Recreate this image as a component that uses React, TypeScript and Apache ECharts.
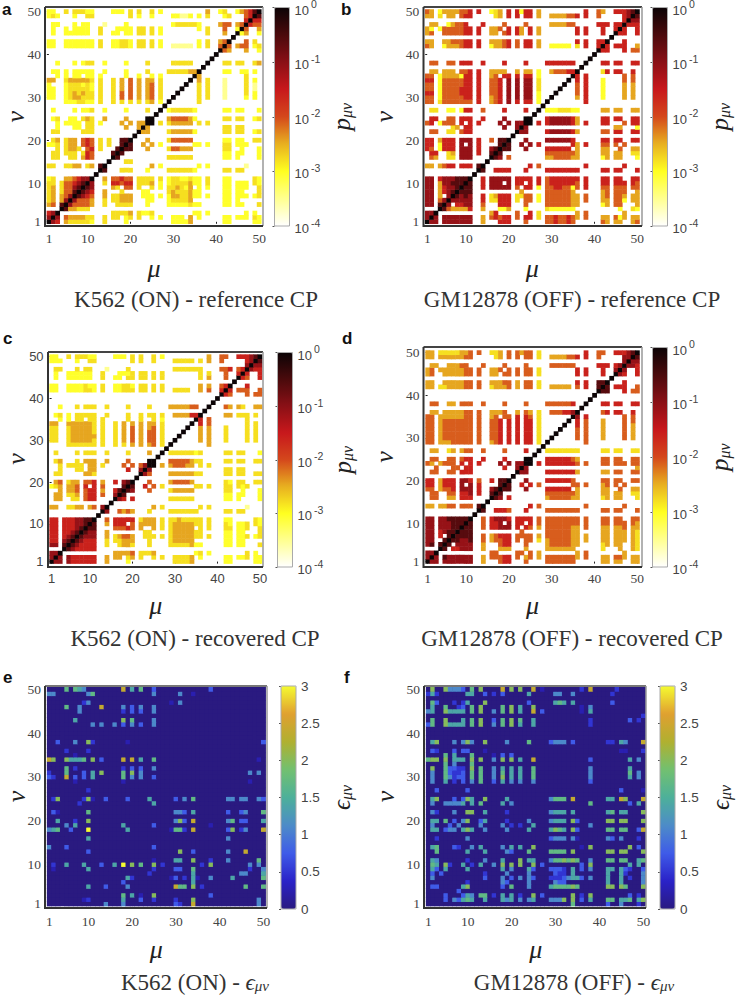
import React, { useEffect, useRef } from "react";
import * as echarts from "echarts";

// Rows run from nu = 50 down to nu = 1; each string holds the columns mu = 1..nu (the maps are symmetric).
// '.' = empty, digits = colour level. Spaces only group columns in tens.
const k562Reference = [
  "22..3.3332 2....222.3 .3..3.2... .......4.. 23..245689",
  "232...2..3 3........3 .2..2....2 2112.2.3.. .23...569",
  ".......... .......... .......... .......... ......69",
  ".22...2.22 ...1....2. .........2 333332.... 455.459",
  ".2..2.2222 ..3...2222 .33.3.2... .....2.3.. .5..29",
  ".2..222222 ..3..22.22 .33.3.2... .......3.. .4..9",
  "",
  "22..222222 2.3..22332 .33.3.2... .....2.3.. 459",
  "22..222222 2.3..22332 .33.3.2..1 1111.2.3.. 59",
  "", "", "",
  "..2...2.23 3..2....2. ...3.....3 3333...9",
  "",
  ".22.2.2222 2..2....2. ...3....33 333449",
  "..2.2.22.2 2.2.....2. .2..2.2... ....9",
  "44..344444 3.3..3.4.5 .4.44.3... ...9",
  "2...233323 2.3..3.4.5 .4.45.3... ..9",
  "22..233333 2.3..3.4.5 .4.45.3... .9",
  "22..234343 3.3..3.5.5 .4.45.3... 9",
  "22..234433 3.3..3.5.5 .4.45.3..9",
  "....222332 2.3..3.3.3 .3.34.2.9",
  "",
  ".2....2.22 3..2....2. ...3..9",
  "",
  ".23..22.34 3..4....4. ...99",
  "..2.2222.3 3.2....4.4 .449",
  "..2...22.3 3.......4. .49",
  ".33.....33 3......... .9",
  "",
  ".34.344.56 5.3.3..889",
  "223.344.56 5.3.3..89",
  "..3.3443.5 6.3...89",
  ".33.333.36 5....89",
  ".33..33.46 5....9",
  "",
  "33..3344.3 4.89",
  "", "",
  "23..445677 9",
  "33.3556789",
  "34.355789",
  "34.35589",
  "34.4579",
  "34.479",
  "45.89",
  "...9",
  "679",
  "79",
  "9",
];

const gm12878Reference = [
  "54.2444455 6.6..234.6 .6266.4... .......6.. 54..666789",
  "44.3.44.56 6.....34.6 .6.66.4..4 444556.6.. 5.....679",
  ".......... .......... .......... .......... ......69",
  ".44..24556 ...6....5. ...5.....4 44455..... 666.669",
  "42.2555556 6.6..445.6 .64.6.4... .....6.6.. .6..69",
  "45..555556 6.6..44.56 .64.6.4... .....6.6.. .6..9",
  "",
  "44..445556 6.6..44456 .5.66.4... .....6.6.. 669",
  "54..244456 6.6..24456 .5.66.4..2 2222.3.6.. 69",
  "", "", "",
  ".55..55.66 6..6....6. ...6....66 66666..9",
  "",
  ".44.444.55 6.6..4444. .4.44.2..4 555669",
  "55.2444426 6.6..45.66 .6.66.2... ....9",
  "66.2555556 6.6..556.7 .7.77.3... ...9",
  "55.2555556 6.6..556.7 .7.77.3... ..9",
  "55.2555566 6.6..556.7 .7.77.3... .9",
  "66.2555566 6.6..556.7 .7.77.2... 9",
  "55.2555556 6.6..456.7 .7.77.2..9",
  "55.3555555 5.6..456.7 .6.66.2.9",
  "",
  ".33..22.26 6..5....6. ...6..9",
  "",
  ".66..55.66 6..6....7. ...99",
  "56.2555.6. 6.6....7.7 .779",
  "......34.6 6.......7. .79",
  ".55..33.56 6......... .9",
  "",
  "66.4666.77 7.6..5.889",
  "66.2666.7. 7.6....89",
  "65.2666.77 7.6..789",
  ".66..34.77 7.6..89",
  ".54..33.77 7....9",
  "",
  "44.4566.66 6.89",
  "", "",
  "77.6777888 9",
  "77.4778889",
  "77.467789",
  "77.46789",
  "77.4.79",
  "77.579",
  "77.89",
  "...9",
  "779",
  "79",
  "9",
];

const k562Recovered = [
  "22..3.3332 2....222.3 .3..3.2... .......4.. 55..666789",
  "222...2..3 3........3 .3..3....3 3333.3.4.. 5.....679",
  ".......... .......... .......... .......... ......79",
  ".33...3.33 ...1....3. .........3 333333.... 556.569",
  ".2..222222 ..3...2223 .33.3.3... .....3.3.. .5..69",
  ".2..222222 ..3..22.33 .33.3.3... .....3.4.. .5..9",
  "",
  "22..222232 2.3..22332 .33.3.3... .....4.4.. 569",
  "22..222233 2.3..22333 .33.3.3..3 333..4.5.. 69",
  "", "", "",
  "..2...3.33 3..3....3. ...3....44 44455..9",
  "",
  ".23.2.3333 3..3....3. .3.33.3..4 444669",
  "..2.2.33.3 3.3.....3. .3..3.2... ....9",
  "44..444444 3.3..3.4.4 .4.44.3... ...9",
  "33..344444 3.3..3.4.5 .4.45.3... ..9",
  "33..344444 3.3..3.4.5 .4.55.3... .9",
  "33..344444 4.3..3.4.5 .4.55.3... 9",
  "33..344444 3.3..3.4.5 .4.55.3..9",
  "....333333 3.3..3.3.4 .4.45.3.9",
  "",
  ".3....3.33 3..3....3. ...4..9",
  "",
  ".34...3.44 4..4....5. ...99",
  "..3.3333.4 4.3....5.5 .579",
  "..3...33.4 4.......6. .79",
  ".33.....44 3......... .9",
  "",
  ".45.344.55 6.4..6.789",
  "234.445.6. 6.5....89",
  "..4.445.56 6.4..689",
  ".44.334.56 6.5..79",
  ".44..33.56 6....9",
  "",
  "44..3344.4 5.79",
  "", "",
  "66.6667788 9",
  "66.6667789",
  "66.666789",
  "66.66789",
  "66.6789",
  "66.789",
  "77.89",
  "...9",
  "779",
  "79",
  "9",
];

const gm12878Recovered = [
  "44.3333344 5.5..334.5 .5455.3... .......6.. 55..666789",
  "44.4444445 5.....34.5 .5.55.3..4 444556.6.. 5.....779",
  ".......... .......... .......... .......... ......79",
  ".44..44455 ...5....5. ...5.....5 55555..... 666.679",
  "45.4444445 5.5..445.5 .5.55.3... .....6.6.. .6..79",
  "45..444445 5.5..44.55 .5.55.3... .....6.6.. .6..9",
  "",
  "44..444445 5.5..44455 .4.55.3... .....6.6.. 889",
  "44.3344445 5.5..34445 .4.55.3..4 4444.5.6.. 89",
  "", "", "",
  ".55..44.55 5..5....5. ...5....55 55556..9",
  "",
  ".44.444445 5.5..4445. .4.54.3..5 556679",
  "55.4444445 5.5..45.55 .6.65.3... ....9",
  "55.4555555 5.5..556.6 .6.66.3... ...9",
  "55.4555555 5.5..556.6 .6.66.3... ..9",
  "55.4555555 5.5..556.6 .6.66.3... .9",
  "55.4555555 5.5..556.6 .6.66.3... 9",
  "55.4555555 5.5..556.6 .6.66.3..9",
  "55.4445555 5.5..456.6 .6.66.3.9",
  "",
  ".44..34.45 5..5....5. ...6..9",
  "",
  ".55..55.56 6..6....6. ...99",
  "54.4555.6. 6.6....7.7 .779",
  "..5...55.6 6.......6. .79",
  ".55..55.66 6......... .9",
  "",
  "66.4666.77 6.5..6.889",
  "66.4666.7. 7.6....89",
  "55.4556.77 7.6..789",
  ".55..55.66 7.6..89",
  ".55..44.66 6....9",
  "",
  "44.4455.55 5.89",
  "", "",
  "77.7788888 9",
  "77.7778889",
  "77.777889",
  "77.67889",
  "77.6.89",
  "77..89",
  "78.89",
  "...9",
  "779",
  "79",
  "9",
];

const k562Error = [
  "....6.654. .......8.5 .6..3..... .......3..",
  "44.......4 6......... ....4..... 4..1......",
  "",
  "........24 .......... ........1. 4.........",
  "....6..4.. ..8....4.3 .4..4.....",
  ".......4.. .......2.3 .3..4.....",
  "",
  "......5... .......7.6 ....4.....",
  ".......... 4.4..4.3.4 .3..4.....",
  "", "", "",
  "..3...4..7 2.......1.",
  "",
  "....2....2",
  "......1...",
  "87..75556. 7.3....8.8 .5..6.....",
  "",
  "....6.2... .......2.3 .3..4.....",
  "2...6...3. 5.7....6.7 .4........",
  "32..8.3.3. 5......6.4 .4..3.....",
  "......1... .......1..",
  "",
  ".........2",
  "",
  ".27.....27 1..3....3. ...5.",
  ".......2..",
  "",
  ".31......6",
  "",
  "..5...2..7",
  "....4.5... .......5..",
  "456..3...9",
  "",
  ".........5",
  "",
  "4...3.....",
  ".........3",
  "", "",
  ".2..5...5.",
  ".1.......",
  "", "", "", "", "", "", "", "",
];

const gm12878Error = [
  ".7..74443. 6.7....8.7 .7..8.1... .....2.8.. ...2......",
  "252......5 5..3.2.3.. ...5.....4 4..4...... ..2......",
  "",
  ".63...2.25 ...7...... ...3.....5 65.5...... ..3....",
  ".5..6..23. 6.7....6.7 .5..7..... .....1.4..",
  "45..75555. 6.7..4.6.7 .5..8.3... .....1.5..",
  "",
  ".6..7...5. 6.7..3.6.7 .6..5..... .......2..",
  "36..75555. 6.7..4.6.7 .5..5..... .......2..",
  "", "", "",
  ".57...4.47 4..7....4. ...6....34 44.3....",
  "",
  ".32...3.33 ...1......",
  "....6.5... 6....1.3.3",
  "677.7.555. 7.7..4.7.7 .5..8.....",
  "....6.4... 6.........",
  ".7..63322. 7.6..4.5.5 .5..6.....",
  ".4..63223. 6.6..4.6.5 .5..6.....",
  ".4..64233. 6.6..4.7.5 .5..6.....",
  ".4..5.2.3. 4.6..3.5.4 .4..4....",
  "",
  "..3......3",
  "",
  ".57...3.37 5..7....5.",
  ".4..44445. 5.6....5.4",
  "",
  ".42...4..7 7..5....2.",
  "",
  ".55.6.3.47 ..35....2.",
  ".4...3.4.. ..4....4.",
  ".55.344.57 5..4......",
  "",
  "..2......4",
  "",
  ".56...32.. 4.5.",
  "..6......5",
  "",
  ".54......2",
  ".65.72..5.",
  ".53.5....",
  ".3.3....",
  ".4.....",
  "",
  ".33..",
  "", "", "", "",
];

const indexLabels = Array.from({ length: 50 }, (_, i) => String(i + 1));
const shownTicks = ["1", "10", "20", "30", "40", "50"];
// log10(p) for the colour levels 1..9
const probLevels = [-3.5, -3.05, -2.8, -2.45, -2.1, -1.6, -1.1, -0.6, 0];
// epsilon for the colour levels 1..9
const errorLevels = [0.25, 0.5, 0.75, 1.1, 1.4, 1.7, 2.0, 2.4, 3.0];
const hotColors = ["#ffffff", "#ffff90", "#ffff20", "#e8b020", "#d4481c", "#c8181c", "#8a1016", "#4a0a0c", "#0c0406"];
const parulaColors = ["#2a1a80", "#2a22c8", "#3f5be8", "#4d8cc8", "#4db09a", "#72c070", "#b0b030", "#e0a030", "#f5fb30"];

const SERIF = "'Liberation Serif', serif";
const SANS = "'Liberation Sans', sans-serif";

type Panel = {
  letter: string; lx: number; ly: number; title: string; tx: number; ty: number;
  rows: string[]; error: boolean; tickFont: string; tickSize: number;
  cell: [number, number, number, number];
  frame: [number, number, number, number];
  bar: [number, number, number, number];
  nameX: number; nameY: number; labelGap: number;
};

const panels: Panel[] = [
  { letter: "a", lx: 2, ly: 9, title: "K562 (ON) - reference CP", tx: 196, ty: 299, rows: k562Reference, error: false, tickFont: SERIF, tickSize: 13.5,
    cell: [46.9, 9.5, 214.4, 214.3], frame: [45, 7, 263, 226], bar: [274.5, 7.5, 15, 218.5], nameX: 32, nameY: 18, labelGap: 39 },
  { letter: "b", lx: 341, ly: 9, title: "GM12878 (OFF) - reference CP", tx: 572, ty: 299, rows: gm12878Reference, error: false, tickFont: SERIF, tickSize: 13.5,
    cell: [425.2, 9.5, 214.3, 214.3], frame: [423.5, 7, 642, 226], bar: [652.5, 7.5, 15, 218.5], nameX: 32, nameY: 28, labelGap: 39 },
  { letter: "c", lx: 3, ly: 338, title: "K562 (ON) - recovered CP", tx: 195, ty: 638, rows: k562Recovered, error: false, tickFont: SANS, tickSize: 13,
    cell: [49.6, 354.6, 212.5, 209], frame: [48, 352, 263, 567], bar: [277.5, 352.5, 15, 214.5], nameX: 29, nameY: 20, labelGap: 37 },
  { letter: "d", lx: 342, ly: 338, title: "GM12878 (OFF) - recovered CP", tx: 572, ty: 638, rows: gm12878Recovered, error: false, tickFont: SERIF, tickSize: 13.5,
    cell: [425.6, 350.6, 213.9, 213], frame: [423.5, 347, 642, 567], bar: [652.5, 347.5, 15, 219.5], nameX: 29, nameY: 28, labelGap: 39 },
  { letter: "e", lx: 3, ly: 677, title: "K562 (ON) - {i|ϵ}{s|μν}", tx: 195, ty: 982, rows: k562Error, error: true, tickFont: SERIF, tickSize: 13.5,
    cell: [47.1, 687.1, 218.5, 219], frame: [45, 686, 267, 908], bar: [281, 686, 15, 223], nameX: 30, nameY: 18, labelGap: 32 },
  { letter: "f", lx: 344, ly: 677, title: "GM12878 (OFF) - {i|ϵ}{s|μν}", tx: 574, ty: 982, rows: gm12878Error, error: true, tickFont: SERIF, tickSize: 13.5,
    cell: [426.1, 687.1, 219.5, 219], frame: [424, 686, 646, 908], bar: [660, 686, 15, 223], nameX: 30, nameY: 28, labelGap: 32 },
];

function decode(p: Panel): number[][] {
  const out: number[][] = [];
  const levels = p.error ? errorLevels : probLevels;
  const grid: (number | null)[][] = Array.from({ length: 50 }, () => Array(50).fill(null));
  p.rows.forEach((raw, k) => {
    const nu = 49 - k;
    const s = raw.replace(/ /g, "");
    for (let c = 0; c < Math.min(s.length, nu + 1); c++) {
      const ch = s[c];
      if (ch !== ".") {
        const v = levels[Number(ch) - 1];
        grid[nu][c] = v;
        grid[c][nu] = v;
      }
    }
  });
  for (let nu = 0; nu < 50; nu++) {
    if (!p.error) grid[nu][nu] = 0;
    for (let c = 0; c < 50; c++) {
      const v = grid[nu][c];
      if (v !== null) out.push([c, nu, v]);
      else if (p.error) out.push([c, nu, 0]);
    }
  }
  return out;
}

const tickFn = (_: number, v: string) => shownTicks.includes(v);

function buildOption() {
  const grids: any[] = [], xAxes: any[] = [], yAxes: any[] = [], series: any[] = [], maps: any[] = [], graphics: any[] = [];
  panels.forEach((p, i) => {
    const [l, t, w, h] = p.cell;
    grids.push({
      left: l, top: t, width: w, height: h, containLabel: false, outerBoundsMode: "none",
      show: p.error, backgroundColor: "#2a1a80", borderWidth: 0,
    });
    const common = {
      type: "category", data: indexLabels, gridIndex: i,
      axisLine: { show: false },
      axisTick: { show: true, inside: true, length: 2, alignWithLabel: true, interval: tickFn, lineStyle: { color: "#222", width: 1 } },
      splitLine: { show: false }, splitArea: { show: false },
      nameLocation: "middle", nameMoveOverlap: false,
      nameTextStyle: { fontFamily: SERIF, fontStyle: "italic", fontSize: 26, color: "#222" },
    };
    xAxes.push({ ...common, name: "μ", nameGap: p.nameX,
      axisLabel: { interval: tickFn, fontFamily: p.tickFont, fontSize: p.tickSize, color: "#444", margin: 8 } });
    yAxes.push({ ...common, name: "ν", nameGap: p.nameY, nameRotate: 90,
      axisLabel: { interval: tickFn, fontFamily: p.tickFont, fontSize: p.tickSize, color: "#444", margin: 6 } });
    series.push({
      type: "heatmap", xAxisIndex: i, yAxisIndex: i, data: decode(p), animation: false,
      itemStyle: { borderWidth: 0 }, emphasis: { disabled: true }, progressive: 0,
    });
    const [bx, by, bw, bh] = p.bar;
    maps.push({
      type: "continuous", seriesIndex: i, dimension: 2, show: true,
      min: p.error ? 0 : -4, max: p.error ? 3 : 0,
      left: bx, top: by, itemWidth: bw, itemHeight: bh, padding: 0, text: ["", ""],
      calculable: false, hoverLink: false, realtime: false,
      inRange: { color: p.error ? parulaColors : hotColors },
    });
    const [fl, ft, fr, fb] = p.frame;
    graphics.push(
      { type: "polyline", silent: true, z: 50, shape: { points: [[fl, ft], [fl, fb], [fr, fb]] }, style: { fill: "none", stroke: "#333", lineWidth: 2 } },
      { type: "line", silent: true, z: 49, shape: { x1: fl, y1: ft, x2: fr, y2: ft }, style: { stroke: p.error ? "#777" : "#444", lineWidth: 2 } },
      { type: "line", silent: true, z: 49, shape: { x1: fr, y1: ft, x2: fr, y2: fb }, style: { stroke: "#999", lineWidth: 1.5 } },
      { type: "rect", silent: true, z: 49, shape: { x: bx, y: by, width: bw, height: bh }, style: { fill: "none", stroke: "#aaa", lineWidth: 1 } },
      { type: "text", silent: true, x: p.lx, y: p.ly, style: { text: p.letter, fontFamily: SANS, fontWeight: "bold", fontSize: 17, fill: "#111", verticalAlign: "middle" } },
      { type: "text", silent: true, x: p.tx, y: p.ty, style: {
          text: p.title, align: "center", verticalAlign: "middle", fontFamily: SERIF, fontSize: 23, fill: "#333",
          rich: {
            i: { fontFamily: SERIF, fontStyle: "italic", fontSize: 23, fill: "#333" },
            s: { fontFamily: SERIF, fontStyle: "italic", fontSize: 15, fill: "#333", verticalAlign: "bottom", lineHeight: 18 },
          },
        } },
    );
  });
  panels.forEach((p, i) => {
    const [bx, by, bw, bh] = p.bar;
    grids.push({ left: bx, top: by, width: bw, height: bh, containLabel: false, outerBoundsMode: "none" });
    xAxes.push({ type: "value", gridIndex: 6 + i, show: false, min: 0, max: 1 });
    yAxes.push({
      type: "value", gridIndex: 6 + i, position: "right",
      min: p.error ? 0 : -4, max: p.error ? 3 : 0, interval: p.error ? 0.5 : 1,
      splitLine: { show: false }, axisLine: { show: false },
      axisTick: { show: true, inside: true, length: 2, lineStyle: { color: "#555" } },
      axisLabel: p.error
        ? { fontFamily: SANS, fontSize: 13.5, color: "#444", margin: 5, formatter: (v: number) => String(v) }
        : {
            fontFamily: SANS, fontSize: 13, color: "#444", margin: 5,
            formatter: (v: number) => `{b|10}{e|${v}}`,
            rich: {
              b: { fontFamily: SANS, fontSize: 13, color: "#444", verticalAlign: "bottom", lineHeight: 18 },
              e: { fontFamily: SANS, fontSize: 10.5, color: "#444", verticalAlign: "top", lineHeight: 18, padding: [0, 0, 0, 2] },
            },
          },
      name: p.error ? "{i|ϵ}{s|μν}" : "{i|p}{s|μν}",
      nameLocation: "middle", nameGap: p.labelGap, nameRotate: 90,
      nameTextStyle: {
        rich: {
          i: { fontFamily: SERIF, fontStyle: "italic", fontSize: 25, color: "#222" },
          s: { fontFamily: SERIF, fontStyle: "italic", fontSize: 16, color: "#222", verticalAlign: "bottom", lineHeight: 26 },
        },
      },
    });
  });
  return { animation: false, backgroundColor: "#fff", grid: grids, xAxis: xAxes, yAxis: yAxes, visualMap: maps, series, graphic: { elements: graphics }, tooltip: { show: false } };
}

export default function App() {
  const ref = useRef<HTMLDivElement>(null);
  useEffect(() => {
    const chart = echarts.init(ref.current!, undefined, { renderer: "svg" });
    chart.setOption(buildOption() as any);
    return () => chart.dispose();
  }, []);
  return <div ref={ref} style={{ position: "absolute", left: 0, top: 0, width: 736, height: 995 }} />;
}
